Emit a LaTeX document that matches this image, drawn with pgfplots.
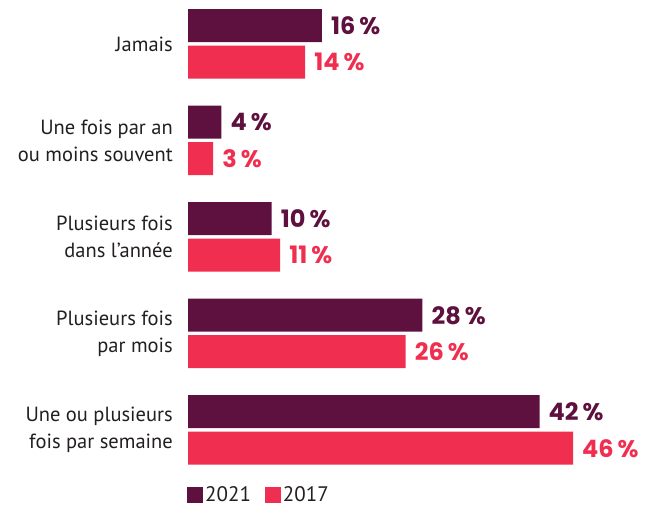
\documentclass[border=0pt]{standalone}
\usepackage{fontspec}
\setmainfont{PT Sans}
\newfontfamily\pop{Poppins}
\usepackage{pgfplots}
\pgfplotsset{compat=1.18}
\definecolor{dark}{RGB}{94,16,62}
\definecolor{pink}{RGB}{240,46,80}
\definecolor{txt}{RGB}{35,31,32}

\begin{document}
\begin{tikzpicture}
\useasboundingbox (0pt,0pt) rectangle (653pt,-507pt);
\begin{axis}[at={(188pt,-473.4pt)},anchor=south west,
  scale only axis,width=385pt,height=472.9pt,
  xmin=0,xmax=46,ymin=-0.45,ymax=4.45,
  xbar,bar width=33pt,clip=false,
  axis line style={draw=none},xtick=\empty,
  ytick={0,1,2,3,4},major tick length=0pt,
  yticklabels={{Une ou plusieurs\\fois par semaine},{Plusieurs fois\\par mois},{Plusieurs fois\\dans l’année},{Une fois par an\\ou moins souvent},Jamais},
  yticklabel style={align=right,font=\fontsize{20.5}{27}\selectfont,text=txt,inner sep=0pt,xshift=-15pt},
  /pgf/number format/assume math mode=true,
  nodes near coords={\pgfmathprintnumber{\pgfplotspointmeta}\,\%},
  nodes near coords style={font=\pop\bfseries\fontsize{24}{27}\selectfont,anchor=west,inner sep=0pt,xshift=9pt},
  legend style={at={(0,0)},anchor=north west,yshift=-9pt,xshift=-4pt,draw=none,legend columns=2,
    font=\fontsize{21}{24}\selectfont,text=txt,
    /tikz/every even column/.append style={column sep=12pt}},
  legend image code/.code={\fill[#1] (-4pt,-8pt) rectangle (12pt,8pt);},
]
\addplot[fill=dark,draw=none,bar shift=18.25pt,nodes near coords style={text=dark}] coordinates {(42,0)(28,1)(10,2)(4,3)(16,4)};
\addlegendentry{2021}
\addplot[fill=pink,draw=none,bar shift=-18.25pt,nodes near coords style={text=pink}] coordinates {(46,0)(26,1)(11,2)(3,3)(14,4)};
\addlegendentry{2017}
\end{axis}
\end{tikzpicture}
\end{document}
